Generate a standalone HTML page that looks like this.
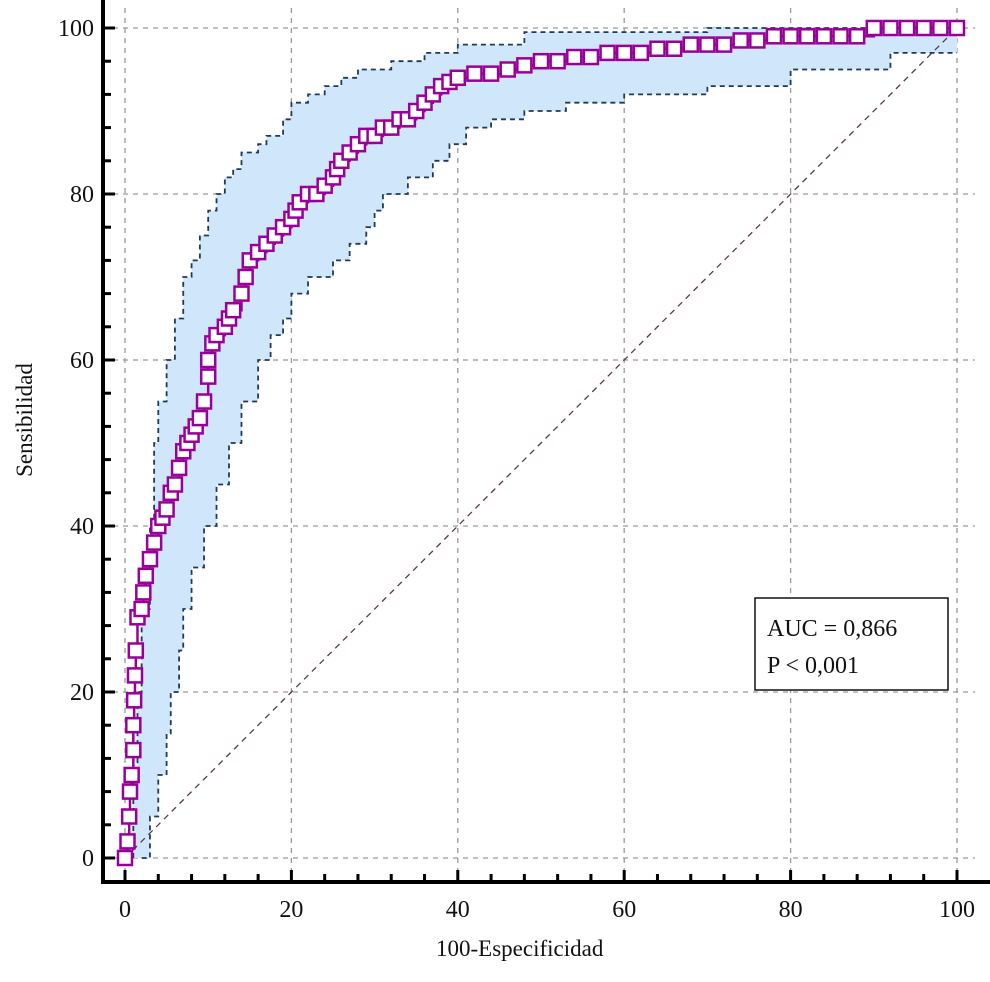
<!DOCTYPE html>
<html><head><meta charset="utf-8"><style>
body{margin:0;background:#fff}
svg text{font-family:"Liberation Serif",serif;fill:#111}
</style></head><body>
<svg width="990" height="977" viewBox="0 0 990 977">
<g id="grid"></g>
<path id="band" fill="#cfe6fb" stroke="none"/>
<line id="diag" stroke="#5a3a4a" stroke-width="1.3" stroke-dasharray="6,5"/>
<path id="upper" fill="none" stroke="#1f3a5a" stroke-width="1.8" stroke-dasharray="5,4"/>
<path id="lower" fill="none" stroke="#1f3a5a" stroke-width="1.8" stroke-dasharray="5,4"/>
<path id="roc" fill="none" stroke="#990099" stroke-width="2.5"/>
<g id="markers"></g>
<g id="axes"></g>
<text x="436" y="956" font-size="23">100-Especificidad</text>
<text transform="translate(32,420) rotate(-90)" text-anchor="middle" font-size="23">Sensibilidad</text>
<g>
<rect x="755" y="598" width="193" height="92" fill="#fff" stroke="#111" stroke-width="1.5"/>
<text x="767" y="636" font-size="24">AUC = 0,866</text>
<text x="767" y="673" font-size="24">P &lt; 0,001</text>
</g>
</svg>
<script>
const rocX=[0,0.3,0.5,0.6,0.8,1,1,1.1,1.2,1.3,1.5,2,2.2,2.5,3,3.5,4,4.5,5,5.5,6,6.5,7,7.5,8,8.5,9,9.5,10,10,10.5,11,12,12.5,13,14,14.5,15,16,17,18,19,20,20.5,21,22,23,24,25,25.5,26,27,28,29,30,31,32,33,34,35,36,37,38,39,40,42,44,46,48,50,52,54,56,58,60,62,64,66,68,70,72,74,76,78,80,82,84,86,88,90,92,94,96,98,100];
const rocY=[0,2,5,8,10,13,16,19,22,25,29,30,32,34,36,38,40,41,42,44,45,47,49,50,51,52,53,55,58,60,62,63,64,65,66,68,70,72,73,74,75,76,77,78,79,80,80,81,82,83,84,85,86,87,87,88,88,89,89,90,91,92,93,93.5,94,94.5,94.5,95,95.5,96,96,96.5,96.5,97,97,97,97.5,97.5,98,98,98,98.5,98.5,99,99,99,99,99,99,100,100,100,100,100,100];
const upX=[1,1,1.5,2,3,3.5,4,5,6,7,8,9,10,11,12,13,14,16,17,19,20,22,24,26,28,32,36,40,48,60,70,100];
const upY=[0,10,20,30,40,50,55,60,65,70,72,75,78,80,82,83,85,86,87,89,91,92,93,94,95,96,97,98,99.5,99.5,100,100];
const loX=[2,3,3,4,5,5.5,6.5,7,8,9.5,11,12.5,14,16,17.5,19,20,22,25,27,29,30,31,34,37,39,41,44,48,53,60,70,80,90,92,100];
const loY=[0,2,5,10,15,20,25,30,35,40,45,50,55,60,63,65,68,70,72,74,76,78,80,82,84,86,88,89,90,91,92,93,95,95,97,97];
const xTicks=[0,20,40,60,80,100];
const yTicks=[0,20,40,60,80,100];
const NS='http://www.w3.org/2000/svg';
const sx=v=>125+v*8.32, sy=v=>858-v*8.3;
function mk(t,a,p){const e=document.createElementNS(NS,t);for(const k in a)e.setAttribute(k,a[k]);p.appendChild(e);return e;}
const grid=document.getElementById('grid'), axes=document.getElementById('axes');
xTicks.forEach(v=>{const l=mk('line',{x1:sx(v),x2:sx(v),y1:8,y2:880,stroke:'#999','stroke-width':1.3,'stroke-dasharray':'5,5'},grid);


const t=mk('text',{x:sx(v),y:917,'text-anchor':'middle','font-size':24},axes);t.textContent=v;

});
yTicks.forEach(v=>{const l=mk('line',{x1:103,x2:975,y1:sy(v),y2:sy(v),stroke:'#999','stroke-width':1.3,'stroke-dasharray':'5,5'},grid);


const t=mk('text',{x:94,y:sy(v)+8,'text-anchor':'end','font-size':24},axes);t.textContent=v;

});
for(let v=0;v<=100;v+=4){const L=v%20===0?12:8;
const a=mk('line',{x1:sx(v),x2:sx(v),y1:882,y2:882-L,stroke:'#000','stroke-width':3},axes);


const b=mk('line',{x1:103,x2:103+L,y1:sy(v),y2:sy(v),stroke:'#000','stroke-width':3},axes);

}
const ax=mk('path',{d:'M103 0 V882 H990',fill:'none',stroke:'#000','stroke-width':4},axes);


function step(X,Y){let d='M'+sx(X[0])+' '+sy(Y[0]);for(let i=1;i<X.length;i++){d+=' H'+sx(X[i])+' V'+sy(Y[i]);}return d;}
const up=step(upX,upY), lo=step(loX,loY);
document.getElementById('upper').setAttribute('d',up);
document.getElementById('lower').setAttribute('d',lo);
let rev='';for(let i=loX.length-1;i>=0;i--){rev+=' L'+sx(loX[i])+' '+sy(loY[i]);if(i>0)rev+=' L'+sx(loX[i])+' '+sy(loY[i-1]);}
document.getElementById('band').setAttribute('d',up+' L'+sx(100)+' '+sy(loY[loY.length-1])+rev+' Z');
const dg=document.getElementById('diag');dg.setAttribute('x1',sx(0));dg.setAttribute('y1',sy(0));dg.setAttribute('x2',sx(100));dg.setAttribute('y2',sy(100));
document.getElementById('roc').setAttribute('d',step(rocX,rocY));
const mg=document.getElementById('markers');
rocX.forEach((x,i)=>{const r=mk('rect',{x:sx(x)-7,y:sy(rocY[i])-7,width:14,height:14,fill:'#fff',stroke:'#990099','stroke-width':2.5},mg);

});
</script>
</body></html>
